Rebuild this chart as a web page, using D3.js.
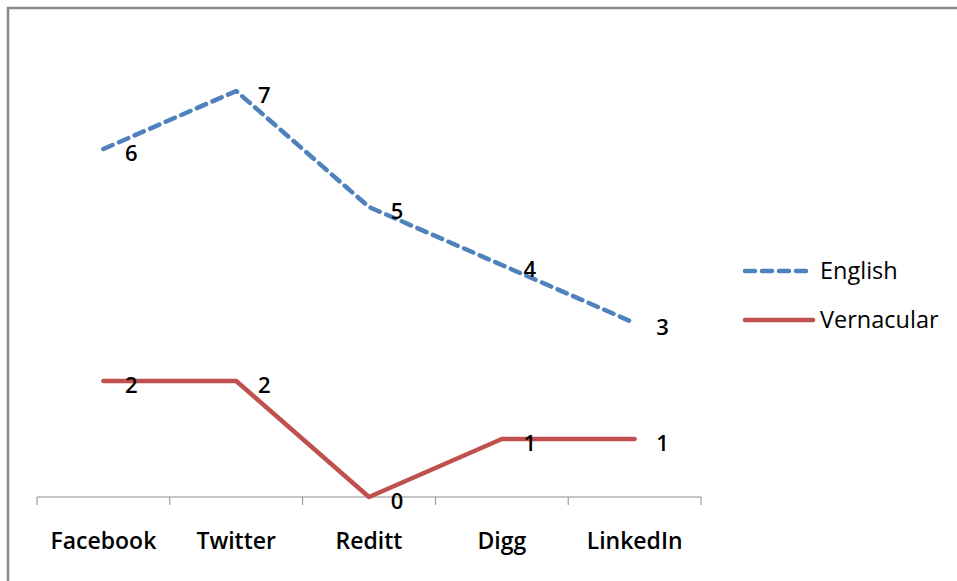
<!DOCTYPE html>
<html>
<head>
<meta charset="utf-8">
<script src="https://cdn.jsdelivr.net/npm/d3@7"></script>
<style>
  body { margin: 0; background: #fff; }
  text { font-family: "Open Sans", "Liberation Sans", sans-serif; }
</style>
</head>
<body>
<div id="chart"></div>
<script>
// data
var categories = ["Facebook", "Twitter", "Reditt", "Digg", "LinkedIn"];
var english = [6, 7, 5, 4, 3];
var vernacular = [2, 2, 0, 1, 1];
var seriesNames = ["English", "Vernacular"];

var width = 957, height = 581;

var svg = d3.select("#chart").append("svg")
  .attr("width", width)
  .attr("height", height);

// outer frame (only top and left edges are in view)
svg.append("rect")
  .attr("x", 8).attr("y", 8)
  .attr("width", 1000).attr("height", 1000)
  .attr("fill", "none")
  .attr("stroke", "#8a8a8a")
  .attr("stroke-width", 2.5);

// plot area
var x = d3.scaleBand().domain(categories).range([37, 701]);
var y = d3.scaleLinear().domain([0, 7]).range([497, 91]);

// x axis
var axis = svg.append("g")
  .attr("transform", "translate(0," + y(0) + ")");
axis.append("line")
  .attr("x1", 37).attr("x2", 701)
  .attr("stroke", "#8c8c8c").attr("stroke-width", 1);
var edges = categories.map(function (c) { return x(c); }).concat([x.range()[1]]);
axis.selectAll(".tick").data(edges).enter().append("line")
  .attr("x1", function (d) { return d; })
  .attr("x2", function (d) { return d; })
  .attr("y1", 0).attr("y2", 8)
  .attr("stroke", "#8c8c8c").attr("stroke-width", 1);
axis.selectAll(".lbl").data(categories).enter().append("text")
  .attr("x", function (d) { return x(d) + x.bandwidth() / 2; })
  .attr("y", 52)
  .attr("text-anchor", "middle")
  .attr("font-size", 23)
  .attr("font-weight", 600)
  .attr("fill", "#000")
  .text(function (d) { return d; });

var line = d3.line()
  .x(function (d, i) { return x(categories[i]) + x.bandwidth() / 2; })
  .y(function (d) { return y(d); });

// vernacular (solid red)
svg.append("path")
  .datum(vernacular)
  .attr("d", line)
  .attr("fill", "none")
  .attr("stroke", "#C0504D")
  .attr("stroke-width", 4.5)
  .attr("stroke-linecap", "round")
  .attr("stroke-linejoin", "round");

// english (dashed blue)
svg.append("path")
  .datum(english)
  .attr("d", line)
  .attr("fill", "none")
  .attr("stroke", "#4F81BD")
  .attr("stroke-width", 4.5)
  .attr("stroke-dasharray", "10,7")
  .attr("stroke-linecap", "round")
  .attr("stroke-linejoin", "round");

// value labels
function addLabels(data) {
  svg.append("g").selectAll("text").data(data).enter().append("text")
    .attr("x", function (d, i) { return x(categories[i]) + x.bandwidth() / 2 + 28; })
    .attr("y", function (d) { return y(d) + 4; })
    .attr("dy", "0.35em")
    .attr("text-anchor", "middle")
    .attr("font-size", 22)
    .attr("font-weight", 600)
    .attr("fill", "#000")
    .text(function (d) { return d; });
}
addLabels(english);
addLabels(vernacular);

// legend
var legend = svg.append("g");
var legendY = [271, 320];
legend.selectAll("line").data(seriesNames).enter().append("line")
  .attr("x1", 745).attr("x2", 813)
  .attr("y1", function (d, i) { return legendY[i]; })
  .attr("y2", function (d, i) { return legendY[i]; })
  .attr("stroke", function (d, i) { return i === 0 ? "#4F81BD" : "#C0504D"; })
  .attr("stroke-width", 4.5)
  .attr("stroke-dasharray", function (d, i) { return i === 0 ? "10,7" : null; })
  .attr("stroke-linecap", "round");
legend.selectAll("text").data(seriesNames).enter().append("text")
  .attr("x", 820)
  .attr("y", function (d, i) { return legendY[i]; })
  .attr("dy", "0.35em")
  .attr("font-size", 23.5)
  .attr("fill", "#000")
  .text(function (d) { return d; });
</script>
</body>
</html>
